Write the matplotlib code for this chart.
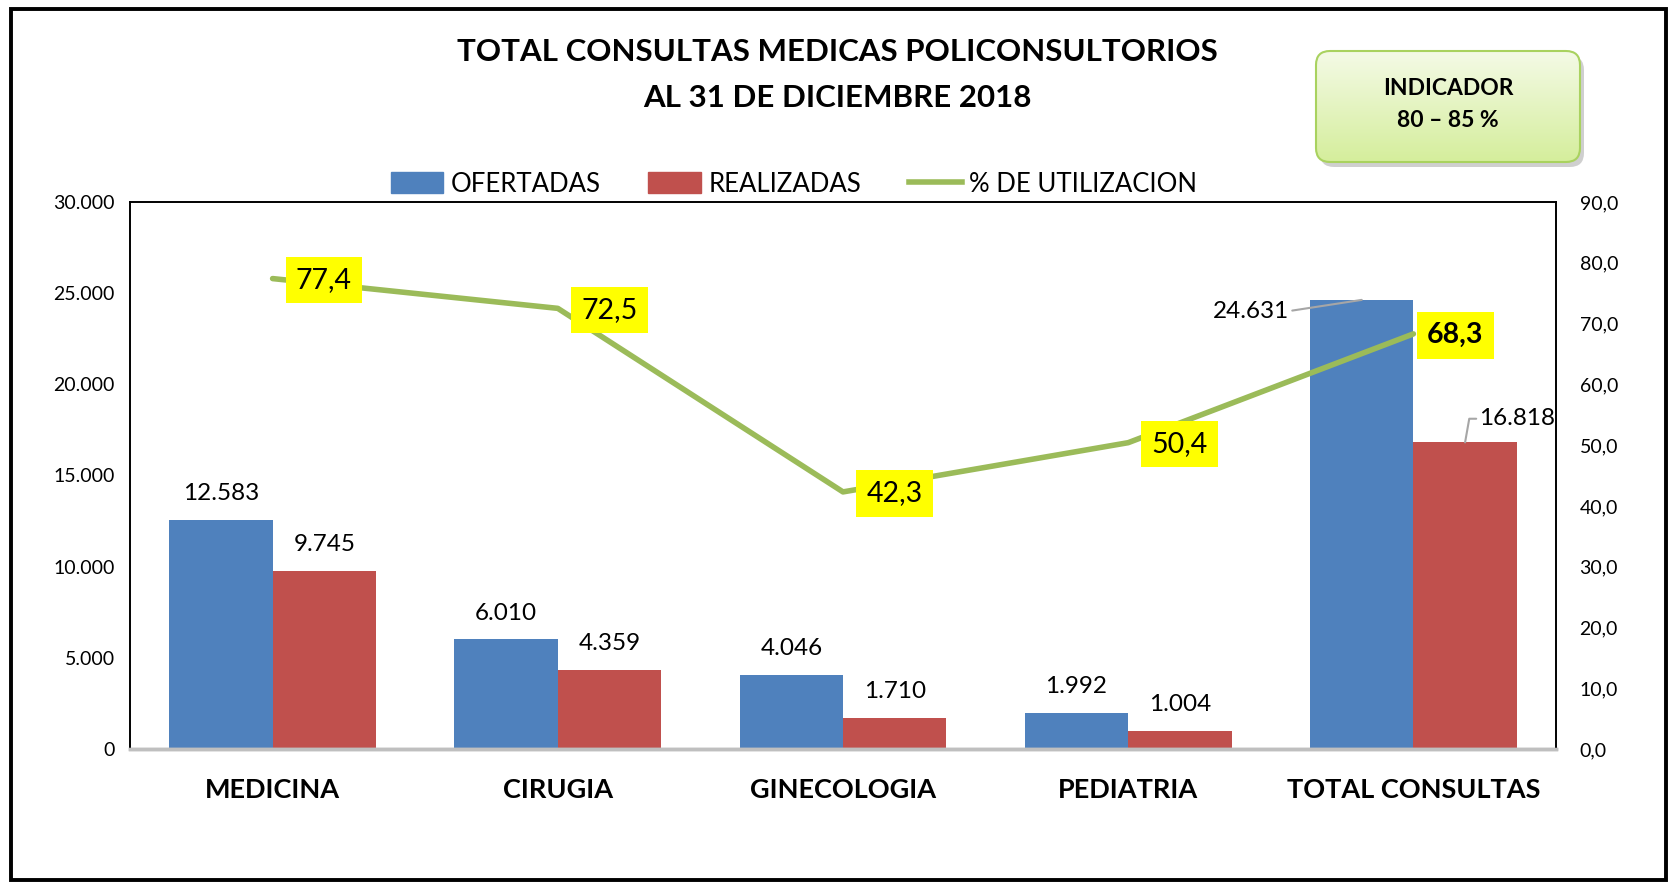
import numpy as np
import matplotlib
matplotlib.use('Agg')
import matplotlib.pyplot as plt
from matplotlib.patches import Patch, Rectangle, FancyBboxPatch
from matplotlib.lines import Line2D
from matplotlib.ticker import FuncFormatter, MultipleLocator

plt.rcParams['font.family'] = ['Lato', 'DejaVu Sans']

categorias = ['MEDICINA', 'CIRUGIA', 'GINECOLOGIA', 'PEDIATRIA', 'TOTAL CONSULTAS']
ofertadas = [12583, 6010, 4046, 1992, 24631]
realizadas = [9745, 4359, 1710, 1004, 16818]
utilizacion = [77.4, 72.5, 42.3, 50.4, 68.3]

titulo = 'TOTAL CONSULTAS MEDICAS POLICONSULTORIOS\nAL 31 DE DICIEMBRE 2018'
indicador = 'INDICADOR\n80 \u2013 85 %'

AZUL = '#4f81bd'
ROJO = '#c0504d'
VERDE = '#9bbb59'


def miles(v):
    return f'{int(round(v)):,}'.replace(',', '.')


def coma(v):
    return f'{v:.1f}'.replace('.', ',')


W, H = 1671, 882
fig = plt.figure(figsize=(W / 100, H / 100), dpi=100)

# decoracion: marco exterior y recuadro del indicador (coordenadas en pixeles)
deco = fig.add_axes([0, 0, 1, 1])
deco.set_xlim(0, W)
deco.set_ylim(H, 0)
deco.axis('off')
deco.add_patch(Rectangle((11, 9), 1655, 871, fill=False, ec='black', lw=2.8))

bx, by, bw, bh = 1316, 51, 264, 111
sombra = FancyBboxPatch((bx + 4, by + 5), bw, bh, boxstyle='round,pad=0,rounding_size=14',
                        fc='#b0b0b0', ec='none', alpha=0.6)
deco.add_patch(sombra)
caja = FancyBboxPatch((bx, by), bw, bh, boxstyle='round,pad=0,rounding_size=14',
                      fc='none', ec='#a9d25f', lw=1.5)
grad = np.linspace(0, 1, 100).reshape(-1, 1)
cmap = matplotlib.colors.LinearSegmentedColormap.from_list('g', ['#f4fae6', '#d5ee9c'])
img = deco.imshow(grad, cmap=cmap, extent=(bx, bx + bw, by + bh, by), origin='upper',
                  aspect='auto', zorder=2)
deco.add_patch(caja)
img.set_clip_path(caja)
caja.set_zorder(3)
deco.set_xlim(0, W)
deco.set_ylim(H, 0)
deco.text(bx + bw / 2, by + bh / 2 - 2, indicador, ha='center', va='center', fontsize=16.5,
          fontweight='bold', linespacing=1.7, zorder=4)

fig.text(837 / W, 1 - 75 / H, titulo, ha='center', va='center', fontsize=22.5,
         fontweight='bold', linespacing=1.75)

# grafico principal
ax = fig.add_axes([130 / W, 1 - 749 / H, (1556 - 130) / W, (749 - 202) / H])
ax2 = ax.twinx()

x = np.arange(len(categorias))
w = 0.3625
ax.bar(x - w / 2, ofertadas, w, color=AZUL, label='OFERTADAS')
ax.bar(x + w / 2, realizadas, w, color=ROJO, label='REALIZADAS')
ax2.plot(x, utilizacion, color=VERDE, lw=4, solid_capstyle='round')

ax.set_xlim(-0.5, len(categorias) - 0.5)
ax.set_ylim(0, 30000)
ax2.set_ylim(0, 90)
ax.yaxis.set_major_locator(MultipleLocator(5000))
ax2.yaxis.set_major_locator(MultipleLocator(10))
ax.yaxis.set_major_formatter(FuncFormatter(lambda v, p: miles(v)))
ax2.yaxis.set_major_formatter(FuncFormatter(lambda v, p: coma(v)))
ax.set_xticks(x)
ax.set_xticklabels(categorias, fontsize=19.5, fontweight='bold')
ax.tick_params(axis='x', length=0, pad=21)
ax.tick_params(axis='y', length=0, pad=11, labelsize=14)
ax2.tick_params(axis='y', length=0, pad=17, labelsize=14)

for a in (ax, ax2):
    for s in ('left', 'top', 'right'):
        a.spines[s].set_color('black')
        a.spines[s].set_linewidth(1.2)
    a.spines['bottom'].set_color('#bfbfbf')
    a.spines['bottom'].set_linewidth(2.5)

# etiquetas de las barras
for i in range(len(categorias) - 1):
    ax.annotate(miles(ofertadas[i]), (x[i] - w / 2, ofertadas[i]), xytext=(0, 19),
                textcoords='offset points', ha='center', va='center', fontsize=17.5)
    ax.annotate(miles(realizadas[i]), (x[i] + w / 2, realizadas[i]), xytext=(0, 19),
                textcoords='offset points', ha='center', va='center', fontsize=17.5)

lider = dict(arrowstyle='-', color='#a6a6a6', lw=1.5, shrinkA=0, shrinkB=0)
i = len(categorias) - 1
ax.annotate(miles(ofertadas[i]), (x[i] - w / 2, ofertadas[i]), xytext=(-52, -8),
            textcoords='offset points', ha='right', va='center', fontsize=17.5,
            arrowprops=dict(lider, relpos=(1.0, 0.5)))
ax.annotate(miles(realizadas[i]), (x[i] + w / 2, realizadas[i]), xytext=(10, 17),
            textcoords='offset points', ha='left', va='center', fontsize=17.5,
            arrowprops=dict(lider, relpos=(0.0, 0.5), connectionstyle='angle,angleA=0,angleB=80'))

# etiquetas del porcentaje
for i, v in enumerate(utilizacion):
    ultimo = i == len(utilizacion) - 1
    ax2.annotate(coma(v), (x[i], v), xytext=(30 if ultimo else 37, -1),
                 textcoords='offset points', ha='center', va='center', fontsize=20.5,
                 fontweight='bold' if ultimo else 'normal',
                 bbox=dict(boxstyle='square,pad=0.36', fc='#ffff00', ec='none'))

handles = [Patch(color=AZUL, label='OFERTADAS'),
           Patch(color=ROJO, label='REALIZADAS'),
           Line2D([], [], color=VERDE, lw=4, label='% DE UTILIZACION')]
fig.legend(handles=handles, loc='center', bbox_to_anchor=(794 / W, 1 - 184 / H), ncol=3,
           frameon=False, fontsize=18.5, handlelength=2.05, handleheight=0.9,
           handletextpad=0.3, columnspacing=1.85)

fig.savefig('out.png', dpi=100)
